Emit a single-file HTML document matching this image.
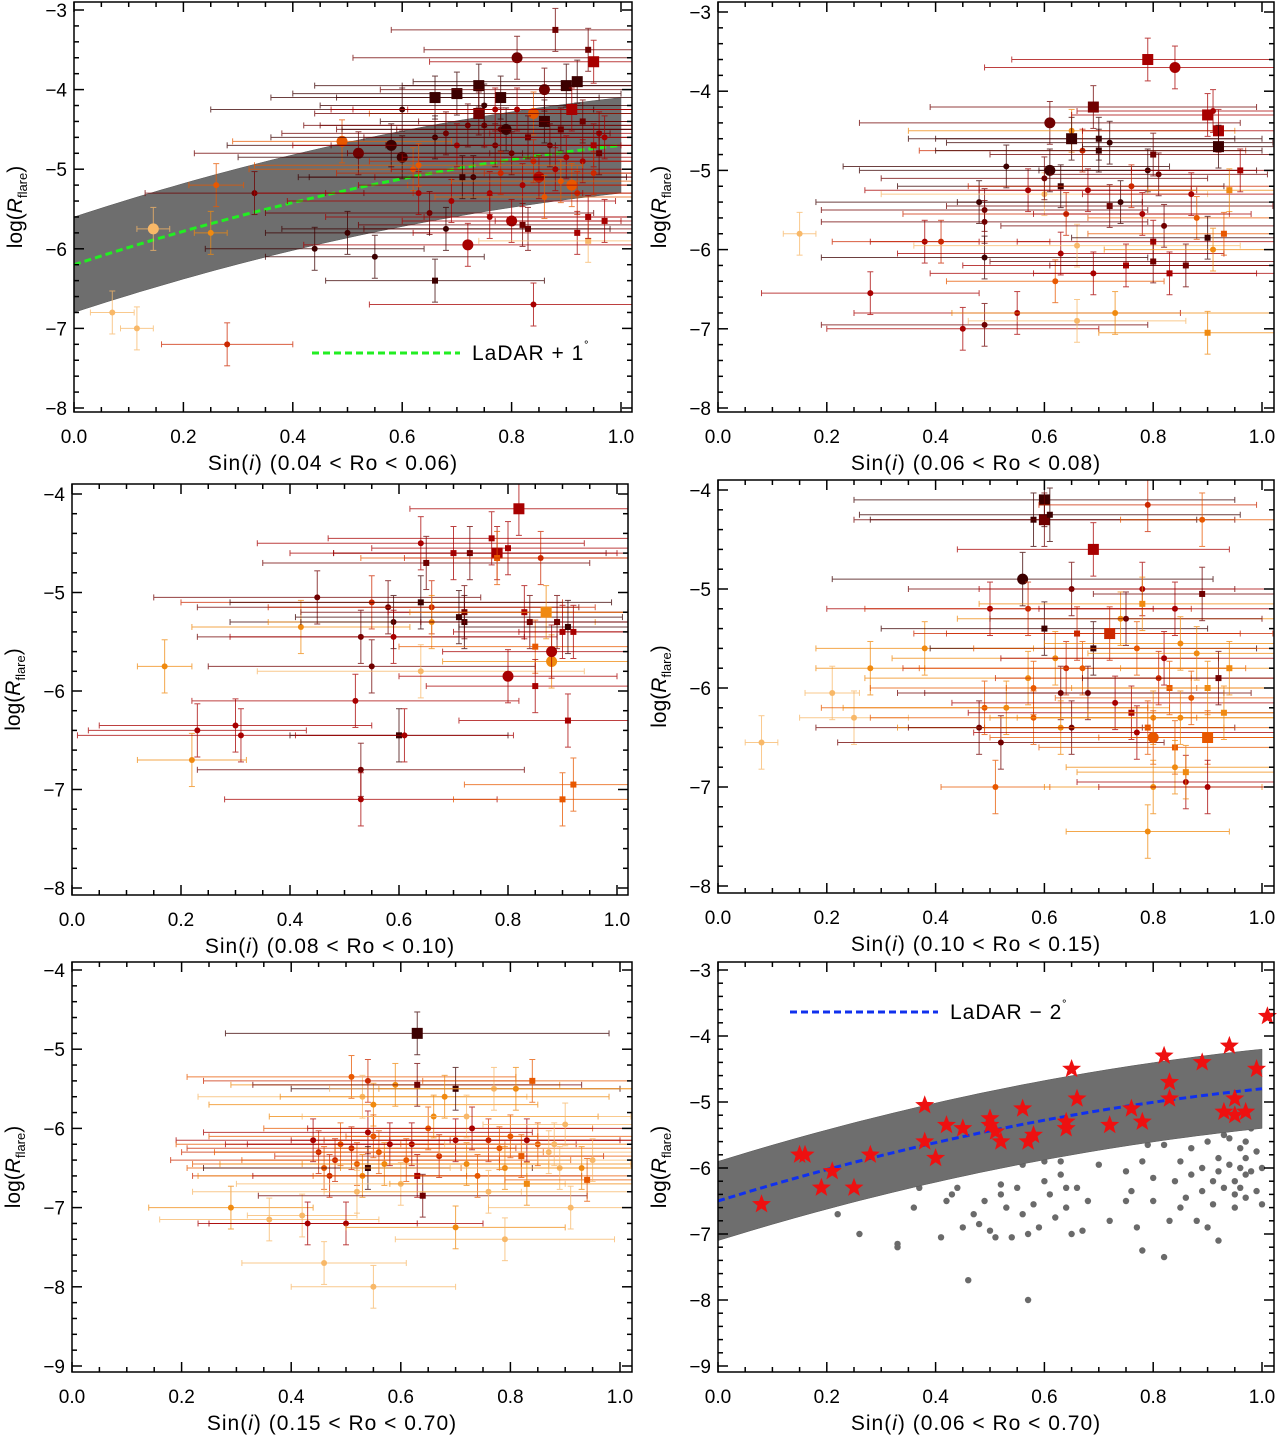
<!DOCTYPE html>
<html><head><meta charset="utf-8">
<style>
body{margin:0;background:#fff;}
svg{display:block;font-family:"Liberation Sans",sans-serif;}
</style></head>
<body>
<svg id="fig" width="1280" height="1435" viewBox="0 0 1280 1435" xmlns="http://www.w3.org/2000/svg"></svg>
<script>
// ---------- colour palette (index used in data) ----------
const palette = ['#3c0000','#700000','#a80000','#cc2800','#e85800','#f08a10','#f8b868'];

// ---------- Panel 1 data (0.04 < Ro < 0.06) ----------
const p1X = [0.07,0.115,0.28,0.145,0.25,0.26,0.33,0.44,0.49,0.5,0.55,0.52,0.58,0.6,0.6,0.62,0.66,0.66,0.66,0.7,0.72,0.74,0.75,0.78,0.78,0.8,0.81,0.82,0.83,0.84,0.84,0.86,0.88,0.9,0.92,0.91,0.92,0.94,0.95,0.94,0.94,0.96,0.97,
 0.68,0.7,0.72,0.73,0.74,0.75,0.76,0.77,0.78,0.79,0.8,0.81,0.82,0.83,0.84,0.85,0.86,0.87,0.88,0.89,0.9,0.91,0.92,0.93,0.93,0.95,0.95,0.96,0.97,0.69,0.71,0.63,0.65,0.68,0.76,0.63,0.77,0.86,0.89];
const p1Y = [-6.8,-7.0,-7.2,-5.75,-5.8,-5.2,-5.3,-6.0,-4.65,-5.8,-6.1,-4.8,-4.7,-4.25,-4.85,-5.0,-6.4,-4.1,-4.6,-4.05,-5.95,-3.95,-4.45,-4.1,-4.5,-5.65,-3.6,-5.7,-5.75,-6.7,-4.3,-4.0,-3.25,-3.95,-3.9,-5.2,-5.8,-3.5,-3.65,-5.9,-5.6,-4.55,-5.65,
 -4.55,-4.7,-4.45,-5.1,-4.3,-4.2,-5.3,-4.7,-5.05,-4.5,-4.8,-4.25,-5.2,-4.6,-4.9,-5.1,-4.4,-4.7,-5.0,-4.5,-4.85,-4.25,-5.3,-4.4,-4.9,-4.7,-5.05,-4.8,-4.6,-5.4,-5.1,-5.3,-5.55,-5.75,-5.6,-4.95,-4.25,-5.35,-5.15];
const p1XE = [0.04,0.03,0.12,0.03,0.03,0.05,0.2,0.2,0.2,0.15,0.2,0.3,0.3,0.35,0.3,0.3,0.2,0.3,0.3,0.3,0.3,0.3,0.3,0.3,0.3,0.2,0.3,0.3,0.3,0.3,0.3,0.3,0.3,0.3,0.3,0.3,0.3,0.3,0.3,0.2,0.3,0.2,0.2,
 0.3,0.3,0.3,0.3,0.3,0.3,0.3,0.3,0.3,0.3,0.3,0.3,0.3,0.3,0.3,0.3,0.3,0.3,0.3,0.3,0.3,0.3,0.3,0.3,0.3,0.2,0.2,0.2,0.2,0.3,0.3,0.3,0.3,0.3,0.3,0.3,0.3,0.2,0.2];
const p1C = [6,6,3,6,5,4,1,0,4,0,0,1,0,0,0,4,0,0,0,0,2,0,1,0,1,2,1,1,1,2,4,1,1,0,0,4,2,1,2,6,2,2,2,
 1,2,1,0,1,0,2,1,3,0,1,2,2,1,3,2,0,1,2,1,2,2,3,1,2,2,3,1,2,2,0,2,1,0,2,4,2,4,4];
const p1K = 'cccCccccCccCCcCcsScSCScScCCsscCCsSSCssSsscs' + 'ccccSccccCcccscCSccscScscscsc' + 'cscccccccc';

// ---------- Panel 2 data (0.06 < Ro < 0.08) ----------
const p2X = [0.15,0.28,0.38,0.41,0.45,0.49,0.48,0.49,0.49,0.49,0.53,0.55,0.57,0.6,0.6,0.61,0.61,0.62,0.63,0.63,0.64,0.65,0.65,0.66,0.66,0.67,0.68,0.69,0.69,0.7,0.7,0.72,0.72,0.73,0.74,0.75,0.76,0.78,0.79,0.79,0.8,0.8,0.8,0.81,0.82,0.83,0.84,0.86,0.87,0.88,0.9,0.9,0.9,0.91,0.91,0.92,0.92,0.93,0.94,0.96];
const p2Y = [-5.8,-6.55,-5.9,-5.9,-7.0,-6.95,-5.4,-5.65,-5.5,-6.1,-4.95,-6.8,-5.25,-5.3,-5.1,-4.4,-5.0,-6.4,-5.2,-6.05,-5.55,-4.5,-4.6,-5.95,-6.9,-4.75,-5.25,-6.3,-4.2,-4.6,-4.75,-5.45,-4.65,-6.8,-5.4,-6.2,-5.2,-5.55,-5.0,-3.6,-4.8,-5.9,-6.15,-5.05,-5.7,-6.3,-3.7,-6.2,-5.3,-5.6,-4.3,-5.85,-7.05,-6.0,-4.25,-4.5,-4.7,-5.8,-5.25,-5.0];
const p2XE = [0.03,0.2,0.1,0.2,0.25,0.3,0.3,0.3,0.3,0.3,0.3,0.3,0.3,0.3,0.3,0.35,0.35,0.2,0.3,0.3,0.3,0.3,0.3,0.3,0.2,0.3,0.2,0.3,0.3,0.3,0.3,0.3,0.3,0.3,0.3,0.3,0.3,0.2,0.2,0.25,0.3,0.25,0.3,0.2,0.3,0.25,0.35,0.25,0.2,0.2,0.25,0.25,0.2,0.2,0.25,0.25,0.25,0.25,0.15,0.2];
const p2C = [6,2,2,3,2,1,0,1,1,0,0,2,2,6,1,1,0,4,0,2,3,5,0,6,6,3,2,2,1,0,0,1,0,5,0,2,3,2,0,2,1,2,1,1,1,2,2,1,2,4,2,0,5,5,2,2,0,4,5,2];
const p2K = 'cccccccccccccccCCcscccScccccSssscccscccSsssccsCsccSssccSSssss';

// ---------- Panel 3 data (0.08 < Ro < 0.10) ----------
const p3X = [0.17,0.22,0.23,0.3,0.31,0.42,0.45,0.52,0.53,0.53,0.53,0.55,0.55,0.58,0.59,0.59,0.6,0.61,0.64,0.64,0.64,0.65,0.66,0.66,0.7,0.71,0.72,0.72,0.73,0.77,0.78,0.78,0.8,0.8,0.82,0.83,0.84,0.85,0.85,0.86,0.87,0.88,0.88,0.89,0.9,0.9,0.91,0.92,0.91,0.92];
const p3Y = [-5.75,-6.7,-6.4,-6.35,-6.45,-5.35,-5.05,-6.1,-5.45,-6.8,-7.1,-5.1,-5.75,-5.15,-5.3,-5.45,-6.45,-6.45,-4.5,-5.1,-5.8,-4.7,-5.15,-5.3,-4.6,-5.25,-5.3,-5.2,-4.6,-4.45,-4.6,-4.65,-5.85,-4.55,-4.15,-5.2,-5.3,-5.55,-5.95,-4.65,-5.2,-5.7,-5.6,-5.3,-7.1,-5.4,-6.3,-6.95,-5.35,-5.4];
const p3XE = [0.05,0.1,0.2,0.25,0.3,0.2,0.3,0.3,0.3,0.3,0.25,0.35,0.3,0.35,0.3,0.3,0.2,0.2,0.3,0.35,0.3,0.3,0.3,0.3,0.3,0.3,0.3,0.3,0.25,0.3,0.3,0.25,0.2,0.25,0.2,0.25,0.25,0.25,0.2,0.25,0.25,0.2,0.2,0.25,0.2,0.2,0.2,0.2,0.2,0.1];
const p3C = [5,5,2,2,2,5,1,2,1,1,2,3,1,1,0,2,0,2,2,0,6,1,3,5,2,0,0,1,1,2,2,4,2,2,2,2,1,4,2,3,5,5,2,1,4,2,2,4,0,2];
const p3K = 'ccccccccccccccccsccscsccssssssSsCsSsssscSCCsssssss';

// ---------- Panel 4 data (0.10 < Ro < 0.15) ----------
const p4X = [0.08,0.21,0.25,0.28,0.38,0.48,0.49,0.5,0.51,0.52,0.53,0.56,0.57,0.57,0.58,0.58,0.58,0.6,0.6,0.6,0.61,0.62,0.63,0.63,0.64,0.65,0.65,0.66,0.67,0.68,0.69,0.69,0.72,0.73,0.74,0.75,0.76,0.77,0.77,0.78,0.78,0.79,0.79,0.79,0.8,0.8,0.8,0.81,0.82,0.83,0.84,0.84,0.84,0.85,0.85,0.86,0.86,0.87,0.88,0.89,0.89,0.9,0.9,0.9,0.92,0.93,0.94];
const p4Y = [-6.55,-6.05,-6.3,-5.8,-5.6,-6.4,-6.2,-5.2,-7.0,-6.55,-6.2,-4.9,-5.9,-5.2,-6.0,-6.3,-4.3,-4.1,-4.3,-5.4,-4.25,-5.7,-6.05,-6.4,-5.8,-6.4,-5.0,-5.45,-5.8,-6.05,-5.6,-4.6,-5.45,-6.15,-5.3,-5.3,-6.25,-6.45,-5.6,-5.0,-5.15,-6.4,-7.45,-4.15,-6.3,-6.5,-7.0,-5.9,-5.7,-6.0,-5.2,-6.6,-6.8,-5.55,-6.3,-6.95,-6.85,-6.1,-5.65,-5.05,-4.3,-6.0,-6.5,-7.0,-5.9,-6.25,-5.8];
const p4XE = [0.03,0.05,0.1,0.1,0.2,0.3,0.3,0.3,0.1,0.3,0.3,0.35,0.3,0.3,0.3,0.3,0.3,0.35,0.35,0.3,0.35,0.3,0.3,0.3,0.3,0.3,0.3,0.3,0.3,0.3,0.3,0.25,0.3,0.3,0.3,0.25,0.3,0.3,0.3,0.3,0.3,0.3,0.15,0.2,0.3,0.3,0.2,0.3,0.3,0.3,0.25,0.25,0.2,0.25,0.3,0.2,0.2,0.25,0.2,0.2,0.15,0.25,0.2,0.2,0.25,0.25,0.2];
const p4C = [6,6,6,5,5,1,4,2,4,1,5,0,5,3,4,4,0,0,1,0,0,5,1,5,3,1,1,3,4,1,0,2,3,2,5,1,2,2,4,2,5,4,5,3,5,4,5,3,2,4,2,4,5,5,5,2,5,4,5,1,4,5,4,2,1,5,5];
const p4K = 'cccccccccccCccccsSSssccccccsccsSScccscccsscccCcccscsccccsccscsScsssss';

// ---------- Panel 5 data (0.15 < Ro < 0.70) ----------
const p5X = [0.29,0.36,0.42,0.43,0.44,0.45,0.46,0.46,0.47,0.48,0.49,0.5,0.51,0.51,0.52,0.52,0.53,0.53,0.54,0.54,0.54,0.55,0.55,0.55,0.56,0.57,0.58,0.59,0.6,0.61,0.62,0.63,0.63,0.63,0.64,0.65,0.66,0.67,0.68,0.7,0.7,0.7,0.72,0.72,0.73,0.74,0.76,0.76,0.77,0.78,0.79,0.79,0.8,0.81,0.82,0.83,0.83,0.84,0.85,0.87,0.88,0.89,0.9,0.91,0.93,0.94,0.95];
const p5Y = [-7.0,-7.15,-7.1,-7.2,-6.15,-6.3,-7.7,-6.5,-6.6,-6.4,-6.2,-7.2,-5.35,-6.25,-6.45,-6.8,-5.6,-6.6,-5.4,-6.05,-6.5,-8.0,-5.7,-6.1,-6.3,-6.45,-6.2,-5.45,-6.7,-6.4,-6.2,-4.8,-5.45,-6.6,-6.85,-6.0,-5.85,-6.35,-5.6,-5.5,-6.15,-7.25,-5.85,-6.45,-6.0,-6.6,-6.15,-6.8,-5.5,-6.25,-6.5,-7.4,-6.1,-5.5,-6.35,-6.15,-6.7,-5.4,-6.2,-6.3,-6.2,-6.5,-5.95,-7.0,-6.5,-6.65,-6.4];
const p5XE = [0.15,0.2,0.1,0.2,0.25,0.25,0.15,0.25,0.25,0.3,0.3,0.25,0.3,0.3,0.3,0.3,0.3,0.3,0.3,0.3,0.3,0.15,0.3,0.3,0.3,0.3,0.3,0.3,0.3,0.3,0.3,0.35,0.3,0.3,0.3,0.3,0.3,0.3,0.3,0.3,0.3,0.2,0.3,0.3,0.3,0.3,0.3,0.3,0.3,0.3,0.3,0.2,0.3,0.25,0.25,0.25,0.25,0.2,0.25,0.2,0.2,0.2,0.15,0.15,0.15,0.15,0.1];
const p5C = [5,6,6,2,2,3,6,4,3,3,4,2,4,3,4,6,6,5,3,2,0,6,5,4,4,5,2,5,6,4,2,0,1,2,1,4,5,3,5,0,2,5,6,5,2,4,3,6,6,4,5,6,4,5,4,2,5,4,4,6,6,6,6,6,5,4,6];
const p5K = 'ccccccccccccccccccccsccccccccccSsssccccsccccccccccccccscsscccccccscss';

// ---------- Panel 6 data (0.06 < Ro < 0.70) ----------
const starX = [0.08,0.15,0.16,0.19,0.21,0.25,0.28,0.38,0.38,0.4,0.42,0.45,0.5,0.5,0.51,0.52,0.56,0.57,0.58,0.64,0.64,0.65,0.66,0.72,0.76,0.78,0.82,0.83,0.83,0.89,0.93,0.94,0.95,0.95,0.97,0.99,1.01];
const starY = [-6.55,-5.8,-5.8,-6.3,-6.05,-6.3,-5.8,-5.05,-5.6,-5.85,-5.35,-5.4,-5.25,-5.35,-5.45,-5.6,-5.1,-5.6,-5.5,-5.3,-5.4,-4.5,-4.95,-5.35,-5.1,-5.3,-4.3,-4.7,-4.95,-4.4,-5.15,-4.15,-4.95,-5.2,-5.15,-4.5,-3.7];
const dotX = [0.19,0.2,0.22,0.26,0.33,0.33,0.35,0.36,0.37,0.39,0.4,0.41,0.42,0.43,0.44,0.45,0.46,0.47,0.48,0.48,0.49,0.5,0.51,0.52,0.52,0.53,0.54,0.55,0.56,0.56,0.57,0.57,0.58,0.58,0.59,0.6,0.6,0.61,0.62,0.63,0.63,0.64,0.64,0.65,0.66,0.67,0.68,0.7,0.72,0.75,0.75,0.76,0.77,0.78,0.78,0.79,0.79,0.8,0.8,0.82,0.82,0.83,0.84,0.84,0.85,0.85,0.86,0.87,0.87,0.88,0.89,0.89,0.9,0.9,0.91,0.91,0.92,0.92,0.92,0.93,0.93,0.94,0.94,0.95,0.95,0.95,0.96,0.96,0.96,0.97,0.97,0.97,0.97,0.98,0.98,0.99,1.0,1.0,0.99];
const dotY = [-6.5,-6.4,-6.7,-7.0,-7.15,-7.2,-6.25,-6.6,-6.3,-6.15,-6.0,-7.05,-6.5,-6.4,-6.3,-6.9,-7.7,-6.7,-6.0,-6.85,-6.5,-6.95,-7.05,-6.25,-6.4,-6.6,-7.05,-6.3,-6.7,-5.95,-8.0,-7.0,-6.55,-5.75,-6.9,-6.2,-5.9,-6.4,-6.75,-5.9,-6.1,-6.3,-6.6,-7.0,-6.3,-6.95,-6.5,-5.95,-6.8,-6.05,-6.5,-6.35,-6.9,-5.9,-7.25,-5.3,-5.65,-6.15,-6.5,-7.35,-5.65,-6.8,-5.4,-6.2,-5.9,-6.6,-6.45,-5.7,-6.1,-6.8,-6.0,-6.35,-5.6,-6.9,-6.2,-6.55,-5.85,-6.05,-7.1,-5.5,-6.3,-5.55,-5.95,-6.2,-6.4,-6.6,-5.7,-6.0,-6.3,-5.6,-5.85,-6.1,-6.45,-6.05,-5.4,-6.35,-6.0,-6.55,-5.75];

// ---------- model curves ----------
const ladarP1 = {base:-6.2, amp:1.5, half:0.6};
const ladarP6 = {base:-6.5, amp:1.7, half:0.6};

const xTicks = [0.0,0.2,0.4,0.6,0.8,1.0];
const xTickLabels = ['0.0','0.2','0.4','0.6','0.8','1.0'];

const NS='http://www.w3.org/2000/svg';
const svg=document.getElementById('fig');
function mk(tag,attrs,parent){const e=document.createElementNS(NS,tag);for(const k in attrs)e.setAttribute(k,attrs[k]);(parent||svg).appendChild(e);return e;}

const panels=[
 {id:1,x0:74,x1:621,ya:-3,yap:10,yb:-8,ybp:408,L:74,R:632,T:2,B:412,yt:[-3,-4,-5,-6,-7,-8],title:'(0.04  <  Ro  <  0.06)'},
 {id:2,x0:718,x1:1262,ya:-3,yap:12,yb:-8,ybp:408,L:718,R:1274,T:2,B:412,yt:[-3,-4,-5,-6,-7,-8],title:'(0.06  <  Ro  <  0.08)'},
 {id:3,x0:72,x1:617,ya:-4,yap:494,yb:-8,ybp:888,L:72,R:628,T:484,B:895,yt:[-4,-5,-6,-7,-8],title:'(0.08  <  Ro  <  0.10)'},
 {id:4,x0:718,x1:1262,ya:-4,yap:490,yb:-8,ybp:886,L:718,R:1274,T:480,B:893,yt:[-4,-5,-6,-7,-8],title:'(0.10  <  Ro  <  0.15)'},
 {id:5,x0:72,x1:620,ya:-4,yap:970,yb:-9,ybp:1366,L:72,R:632,T:962,B:1372,yt:[-4,-5,-6,-7,-8,-9],title:'(0.15  <  Ro  <  0.70)'},
 {id:6,x0:718,x1:1262,ya:-3,yap:970,yb:-9,ybp:1366,L:718,R:1274,T:962,B:1372,yt:[-3,-4,-5,-6,-7,-8,-9],title:'(0.06  <  Ro  <  0.70)'}
];
function sx(p,v){return p.x0+(p.x1-p.x0)*v;}
function sy(p,v){return p.yap+(p.ybp-p.yap)*(v-p.ya)/(p.yb-p.ya);}
function shape(x){return x*(1.5-0.5*x);}

function drawBand(p,g,m,color){
  const up=[],lo=[],mid=[];
  for(let i=0;i<=50;i++){const x=i/50;const c=m.base+m.amp*shape(x);
    up.push(sx(p,x).toFixed(1)+','+sy(p,c+m.half).toFixed(1));
    lo.unshift(sx(p,x).toFixed(1)+','+sy(p,c-m.half).toFixed(1));
    mid.push(sx(p,x).toFixed(1)+','+sy(p,c).toFixed(1));}
  const band=mk('polygon',{points:up.concat(lo).join(' '),fill:'#6e6e6e',stroke:'#555','stroke-width':0.5},g);
  
  
  const ln=mk('polyline',{points:mid.join(' '),fill:'none',stroke:color,'stroke-width':3,'stroke-dasharray':'7,4'},g);
  
  
}

function drawPoints(p,g,X,Y,XE,C,K){
  for(let i=0;i<X.length;i++){
    const col=palette[C[i]];const k=K[i]||'c';
    const cx=sx(p,X[i]),cy=sy(p,Y[i]);
    const xl=sx(p,Math.max(X[i]-XE[i],0)),xr=sx(p,X[i]+XE[i]);
    const yt=sy(p,Y[i]+0.27),yb=sy(p,Y[i]-0.27);
    const eg=mk('g',{stroke:col,'stroke-width':1,opacity:0.75},g);
    
    
    mk('line',{x1:xl,y1:cy,x2:xr,y2:cy},eg);
    mk('line',{x1:cx,y1:yt,x2:cx,y2:yb},eg);
    mk('line',{x1:xl,y1:cy-3,x2:xl,y2:cy+3},eg);
    mk('line',{x1:xr,y1:cy-3,x2:xr,y2:cy+3},eg);
    mk('line',{x1:cx-3,y1:yt,x2:cx+3,y2:yt},eg);
    mk('line',{x1:cx-3,y1:yb,x2:cx+3,y2:yb},eg);
    let m;
    if(k==='c'||k==='C'){const r=k==='C'?5.5:3;m=mk('circle',{cx:cx,cy:cy,r:r,fill:col},g);}
    else{const s=k==='S'?11:6;m=mk('rect',{x:cx-s/2,y:cy-s/2,width:s,height:s,fill:col},g);}
    
    
  }
}

function starPath(cx,cy,R,r){let d='';for(let i=0;i<10;i++){const a=-Math.PI/2+i*Math.PI/5;const rr=i%2?r:R;d+=(i?'L':'M')+(cx+rr*Math.cos(a)).toFixed(1)+','+(cy+rr*Math.sin(a)).toFixed(1);}return d+'Z';}

function drawAxes(p){
  const g=mk('g',{stroke:'#000','stroke-width':1.5,fill:'none'});
  
  
  mk('rect',{x:p.L,y:p.T,width:p.R-p.L,height:p.B-p.T},g);
  for(let v=0;v<=1.0001;v+=0.05){
    const X=sx(p,v);if(X>p.R)break;
    const major=Math.abs(v*5-Math.round(v*5))<1e-6;const len=major?10:5;
    mk('line',{x1:X,y1:p.B,x2:X,y2:p.B-len},g);mk('line',{x1:X,y1:p.T,x2:X,y2:p.T+len},g);
  }
  const ymax=p.ya+(p.T-p.yap)*(p.yb-p.ya)/(p.ybp-p.yap);
  const ymin=p.ya+(p.B-p.yap)*(p.yb-p.ya)/(p.ybp-p.yap);
  for(let v=Math.ceil(ymin*5)/5;v<=ymax+1e-6;v+=0.2){
    const Y=sy(p,v);const major=Math.abs(v-Math.round(v))<1e-6;const len=major?10:5;
    mk('line',{x1:p.L,y1:Y,x2:p.L+len,y2:Y},g);mk('line',{x1:p.R,y1:Y,x2:p.R-len,y2:Y},g);
  }
  xTicks.forEach((v,i)=>{
    const t=mk('text',{x:sx(p,v),y:p.B+31,'text-anchor':'middle','font-size':19,fill:'#000'});
    t.textContent=xTickLabels[i];
    
    
  });
  p.yt.forEach(v=>{
    const t=mk('text',{x:p.L-7,y:sy(p,v)+7,'text-anchor':'end','font-size':19,fill:'#000'});
    t.textContent='\u2212'+Math.abs(v);
    
    
  });
  const xt=mk('text',{x:(p.L+p.R)/2-20,y:p.B+58,'text-anchor':'middle','font-size':21,'letter-spacing':1,fill:'#000','xml:space':'preserve'});
  xt.innerHTML='Sin(<tspan font-style="italic">i</tspan>)  '+p.title.replace(/</g,'&lt;');
  
  
  const cyl=(p.T+p.B)/2, lx=p.L-52;
  const yl=mk('text',{x:lx,y:cyl,'text-anchor':'middle','font-size':21,fill:'#000',transform:`rotate(-90 ${lx} ${cyl})`});
  yl.innerHTML='log(<tspan font-style="italic">R</tspan><tspan font-size="13" dy="5">flare</tspan><tspan dy="-5">)</tspan>';
  
  
}

function clipGroup(p){
  const cp=mk('clipPath',{id:'clip'+p.id});
  mk('rect',{x:p.L,y:p.T,width:p.R-p.L,height:p.B-p.T},cp);
  const g=mk('g',{'clip-path':'url(#clip'+p.id+')'});
  
  
  return g;
}

let g=clipGroup(panels[0]);
drawBand(panels[0],g,ladarP1,'#22ee22');
drawPoints(panels[0],g,p1X,p1Y,p1XE,p1C,p1K);
g=clipGroup(panels[1]);drawPoints(panels[1],g,p2X,p2Y,p2XE,p2C,p2K);
g=clipGroup(panels[2]);drawPoints(panels[2],g,p3X,p3Y,p3XE,p3C,p3K);
g=clipGroup(panels[3]);drawPoints(panels[3],g,p4X,p4Y,p4XE,p4C,p4K);
g=clipGroup(panels[4]);drawPoints(panels[4],g,p5X,p5Y,p5XE,p5C,p5K);
const p6=panels[5];g=clipGroup(p6);
for(let i=0;i<dotX.length;i++){
  const d=mk('circle',{cx:sx(p6,dotX[i]),cy:sy(p6,dotY[i]),r:3.2,fill:'#6a6a6a'},g);
  
  
}
drawBand(p6,g,ladarP6,'#1030ee');
for(let i=0;i<starX.length;i++){
  const s=mk('path',{d:starPath(sx(p6,starX[i]),sy(p6,starY[i]),10,4.2),fill:'#ee1010'},svg);
  
  
}
panels.forEach(drawAxes);

function legend(x1,x2,y,color,txt){
  const lg=mk('g',{});
  
  
  mk('line',{x1:x1,y1:y,x2:x2,y2:y,stroke:color,'stroke-width':3,'stroke-dasharray':'7,4'},lg);
  const t=mk('text',{x:x2+12,y:y+7,'font-size':21,'letter-spacing':1,fill:'#000','xml:space':'preserve'},lg);
  t.innerHTML=txt;
}
legend(312,460,353,'#22ee22','LaDAR  +  1<tspan font-size="13" dy="-9">&#730;</tspan>');
legend(790,938,1012,'#1030ee','LaDAR  \u2212  2<tspan font-size="13" dy="-9">&#730;</tspan>');
</script>
</body></html>
